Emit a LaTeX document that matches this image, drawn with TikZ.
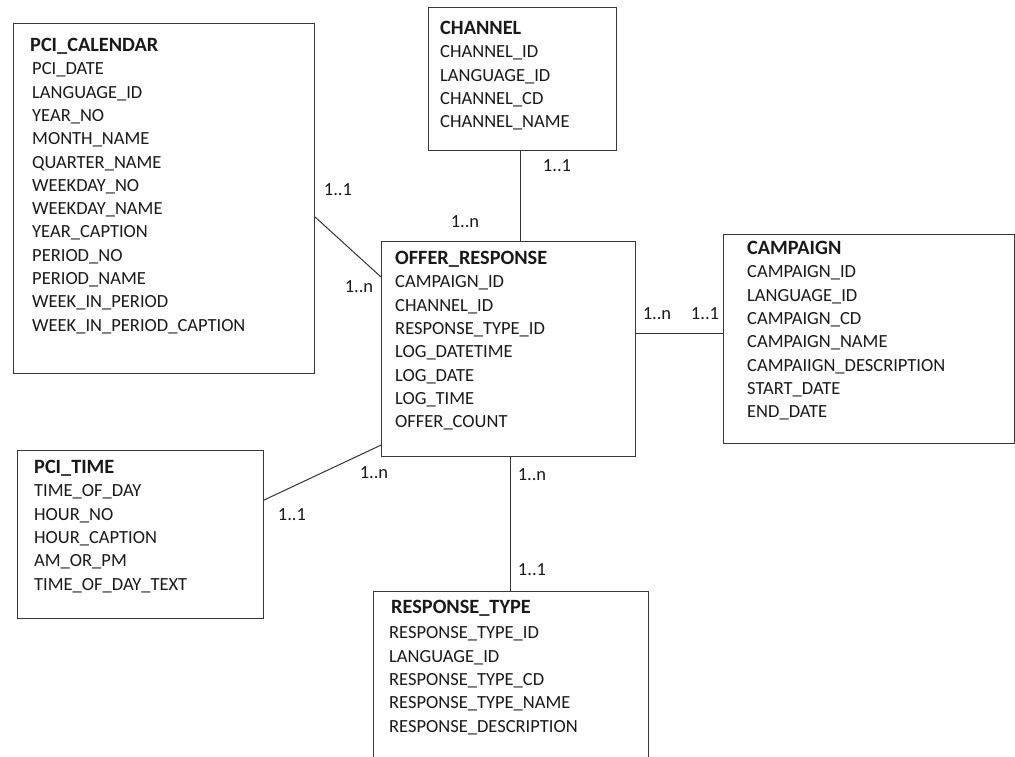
\documentclass[tikz,border=0pt]{standalone}
\usepackage{fontspec}
\setmainfont{Carlito}
\usetikzlibrary{calc}
\newcommand{\ttl}[1]{{\fontsize{20.3}{23.3}\selectfont\bfseries #1}}
\begin{document}
\begin{tikzpicture}[x=1pt,y=-1pt,
  entity/.style={draw=black!78,line width=1.1pt,rectangle,inner sep=0pt,anchor=north west},
  fields/.style={inner sep=0pt,anchor=north west,align=left,font=\fontsize{18.5}{23.3}\selectfont,text=black!90},
  card/.style={inner sep=0pt,anchor=center,font=\fontsize{18.5}{22}\selectfont,text=black!90},
  link/.style={draw=black!80,line width=1pt}]
\useasboundingbox (0,0) rectangle (1015,757);
% entity boxes
\node[entity,minimum width=301pt,minimum height=350pt] (cal) at (13,23) {};
\node[entity,minimum width=188pt,minimum height=143pt] (chan) at (428,7) {};
\node[entity,minimum width=254pt,minimum height=215pt] (offer) at (381,241) {};
\node[entity,minimum width=291pt,minimum height=209pt] (camp) at (723,234) {};
\node[entity,minimum width=246pt,minimum height=168pt] (ptime) at (17,450) {};
\node[entity,minimum width=275pt,minimum height=190pt] (resp) at (373,591) {};
% field lists
\node[fields] (calT) at (30,38) {\ttl{PCI\_CALENDAR}\\
\hspace*{2pt}PCI\_DATE\\ \hspace*{2pt}LANGUAGE\_ID\\ \hspace*{2pt}YEAR\_NO\\ \hspace*{2pt}MONTH\_NAME\\
\hspace*{2pt}QUARTER\_NAME\\ \hspace*{2pt}WEEKDAY\_NO\\ \hspace*{2pt}WEEKDAY\_NAME\\ \hspace*{2pt}YEAR\_CAPTION\\
\hspace*{2pt}PERIOD\_NO\\ \hspace*{2pt}PERIOD\_NAME\\ \hspace*{2pt}WEEK\_IN\_PERIOD\\ \hspace*{2pt}WEEK\_IN\_PERIOD\_CAPTION};
\node[fields] (chanT) at (440,21) {\ttl{CHANNEL}\\ CHANNEL\_ID\\ LANGUAGE\_ID\\ CHANNEL\_CD\\ CHANNEL\_NAME};
\node[fields] (offerT) at (395,251) {\ttl{OFFER\_RESPONSE}\\ CAMPAIGN\_ID\\ CHANNEL\_ID\\ RESPONSE\_TYPE\_ID\\
LOG\_DATETIME\\ LOG\_DATE\\ LOG\_TIME\\ OFFER\_COUNT};
\node[fields] (campT) at (747,241) {\ttl{CAMPAIGN}\\ CAMPAIGN\_ID\\ LANGUAGE\_ID\\ CAMPAIGN\_CD\\ CAMPAIGN\_NAME\\
CAMPAIIGN\_DESCRIPTION\\ START\_DATE\\ END\_DATE};
\node[fields] (ptimeT) at (34,460) {\ttl{PCI\_TIME}\\ TIME\_OF\_DAY\\ HOUR\_NO\\ HOUR\_CAPTION\\ AM\_OR\_PM\\ TIME\_OF\_DAY\_TEXT};
\node[fields] (respT) at (391,600) {\ttl{RESPONSE\_TYPE}\\[2pt] \hspace*{-2pt}RESPONSE\_TYPE\_ID\\ \hspace*{-2pt}LANGUAGE\_ID\\
\hspace*{-2pt}RESPONSE\_TYPE\_CD\\ \hspace*{-2pt}RESPONSE\_TYPE\_NAME\\ \hspace*{-2pt}RESPONSE\_DESCRIPTION};
% connectors
\draw[link] ($(chan.south west)+(92,0)$) coordinate (c1) -- (c1 |- offer.north);
\draw[link] ($(cal.north east)+(0,194)$) -- ($(offer.north west)+(0,36)$);
\draw[link] ($(offer.south west)+(0,-12)$) -- ($(ptime.north east)+(0,50)$);
\draw[link] ($(offer.north east)+(0,92)$) coordinate (c2) -- (c2 -| camp.west);
\draw[link] ($(offer.south west)+(129,0)$) coordinate (c3) -- (c3 |- resp.north);
% cardinalities
\node[card] (k1) at (557,166) {1..1};
\node[card] (k2) at (465,222) {1..n};
\node[card] (k3) at (338,190) {1..1};
\node[card] (k4) at (359,287) {1..n};
\node[card] (k5) at (657,314) {1..n};
\node[card] (k6) at (705,314) {1..1};
\node[card] (k7) at (374,473) {1..n};
\node[card] (k8) at (292,515) {1..1};
\node[card] (k9) at (532,475) {1..n};
\node[card] (k10) at (532,570) {1..1};
\end{tikzpicture}
\end{document}
